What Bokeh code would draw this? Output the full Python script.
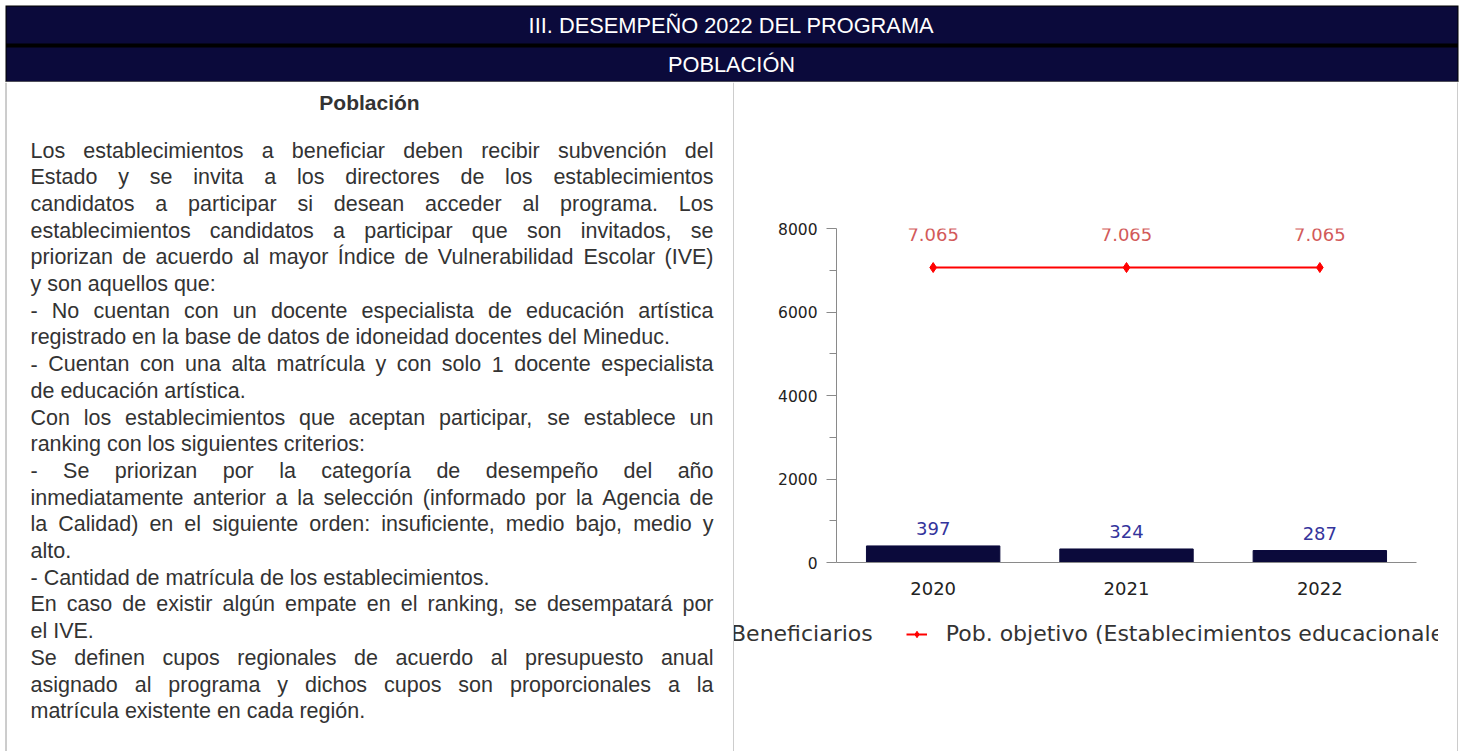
from bokeh.plotting import figure
from bokeh.models import Range1d, FactorRange, FixedTicker, Legend, LegendItem
from bokeh.layouts import column, row
from bokeh.embed import file_html
from bokeh.resources import INLINE
from bokeh.core.properties import value

# ---------------- data ----------------
years = ["2020", "2021", "2022"]
beneficiarios = [397, 324, 287]
pob_objetivo = [7065, 7065, 7065]
y_ticks = [0, 2000, 4000, 6000, 8000]
y_minor_ticks = [1000, 3000, 5000, 7000]
series_names = ["Beneficiarios", "Pob. objetivo (Establecimientos educacionales)"]
header_titles = ["III. DESEMPEÑO 2022 DEL PROGRAMA", "POBLACIÓN"]
panel_title = "Población"
body_lines = [
    ("Los establecimientos a beneficiar deben recibir subvención del", True),
    ("Estado y se invita a los directores de los establecimientos", True),
    ("candidatos a participar si desean acceder al programa. Los", True),
    ("establecimientos candidatos a participar que son invitados, se", True),
    ("priorizan de acuerdo al mayor Índice de Vulnerabilidad Escolar (IVE)", True),
    ("y son aquellos que:", False),
    ("- No cuentan con un docente especialista de educación artística", True),
    ("registrado en la base de datos de idoneidad docentes del Mineduc.", False),
    ("- Cuentan con una alta matrícula y con solo 1 docente especialista", True),
    ("de educación artística.", False),
    ("Con los establecimientos que aceptan participar, se establece un", True),
    ("ranking con los siguientes criterios:", False),
    ("- Se priorizan por la categoría de desempeño del año", True),
    ("inmediatamente anterior a la selección (informado por la Agencia de", True),
    ("la Calidad) en el siguiente orden: insuficiente, medio bajo, medio y", True),
    ("alto.", False),
    ("- Cantidad de matrícula de los establecimientos.", False),
    ("En caso de existir algún empate en el ranking, se desempatará por", True),
    ("el IVE.", False),
    ("Se definen cupos regionales de acuerdo al presupuesto anual", True),
    ("asignado al programa y dichos cupos son proporcionales a la", True),
    ("matrícula existente en cada región.", False),
]

NAVY = "#0b0a3b"
TEXT = "#333333"
BORDER = "#9a9a9a"
RED = "#ff0000"

# Arial / Liberation Sans advance widths (1/1000 em)
AW = {' ': 278, '!': 278, '(': 333, ')': 333, ',': 278, '-': 333, '.': 278, ':': 278,
      'A': 667, 'B': 667, 'C': 722, 'D': 722, 'E': 667, 'F': 611, 'G': 778, 'H': 722,
      'I': 278, 'J': 500, 'K': 667, 'L': 556, 'M': 833, 'N': 722, 'O': 778, 'P': 667,
      'Q': 778, 'R': 722, 'S': 667, 'T': 611, 'U': 722, 'V': 667, 'W': 944, 'X': 667,
      'Y': 667, 'Z': 611, 'a': 556, 'b': 556, 'c': 500, 'd': 556, 'e': 556, 'f': 278,
      'g': 556, 'h': 556, 'i': 222, 'j': 222, 'k': 500, 'l': 222, 'm': 833, 'n': 556,
      'o': 556, 'p': 556, 'q': 556, 'r': 333, 's': 500, 't': 278, 'u': 556, 'v': 500,
      'w': 722, 'x': 500, 'y': 500, 'z': 500, 'á': 556, 'é': 556, 'í': 278, 'ó': 556,
      'ú': 556, 'ñ': 556, 'Í': 278, 'Ó': 778, 'Ñ': 722, 'É': 667}
for d in "0123456789":
    AW[d] = 556


def text_width(s, size):
    return sum(AW.get(ch, 556) for ch in s) * size / 1000.0


def bare(p):
    p.axis.visible = False
    p.grid.visible = False
    return p


# ---------------- header ----------------
hdr = bare(figure(width=1460, height=82, x_range=Range1d(0, 1460), y_range=Range1d(82, 0),
                  toolbar_location=None, output_backend="svg", min_border=0,
                  outline_line_color=None))
hdr.quad(left=[5], right=[1458], top=[5], bottom=[82], fill_color="#000000", line_color=None)
hdr.quad(left=[6, 6], right=[1457, 1457], top=[6, 47], bottom=[43, 81],
         fill_color=NAVY, line_color=None)
hdr.segment(x0=[5], y0=[81.5], x1=[1458], y1=[81.5], line_color=BORDER, line_width=1)
hdr.text(x=[731, 731], y=[25, 64], text=header_titles, text_align="center",
         text_baseline="middle", text_color="white",
         text_font=value("Liberation Sans"), text_font_size="21.8px")

# ---------------- text panel ----------------
PH = 669
tp = bare(figure(width=734, height=PH, x_range=Range1d(0, 734), y_range=Range1d(751, 82),
                 toolbar_location=None, output_backend="svg", min_border=0,
                 outline_line_color=None))
tp.segment(x0=[5.5, 733.5], y0=[82, 82], x1=[5.5, 733.5], y1=[751, 751],
           line_color=BORDER, line_width=1)
tp.text(x=[369], y=[102], text=[panel_title], text_align="center", text_baseline="middle",
        text_color=TEXT, text_font=value("Liberation Sans"), text_font_size="21px",
        text_font_style="bold")

FS = 21.5
X0, X1 = 30, 713
Y0, LH = 150, 26.7
wx, wy, wt = [], [], []
for i, (line, just) in enumerate(body_lines):
    words = line.split(" ")
    widths = [text_width(w, FS) for w in words]
    if just and len(words) > 1:
        gap = (X1 - X0 - sum(widths)) / (len(words) - 1)
    else:
        gap = text_width(" ", FS)
    x = X0
    for w, wd in zip(words, widths):
        wx.append(x)
        wy.append(Y0 + i * LH)
        wt.append(w)
        x += wd + gap
tp.text(x=wx, y=wy, text=wt, text_align="left", text_baseline="middle",
        text_color=TEXT, text_font=value("Liberation Sans"), text_font_size=f"{FS}px")

# ---------------- chart ----------------
CW = 723
CH = 530           # chart canvas: page y 82 .. 612
ch = figure(width=CW, height=CH, x_range=FactorRange(*years, range_padding=0),
            y_range=Range1d(0, 8000), toolbar_location=None, output_backend="svg",
            min_border_left=102, min_border_right=CW - 102 - 580,
            min_border_top=146, min_border_bottom=CH - 146 - 334, outline_line_color=None)
ch.grid.visible = False

bars = ch.vbar(x=years, top=beneficiarios, width=0.69, fill_color=NAVY, line_color=NAVY)
ln = ch.line(x=years, y=pob_objetivo, line_color=RED, line_width=2)
pts = ch.scatter(x=years, y=pob_objetivo, marker="diamond", size=10,
                 fill_color=RED, line_color=RED)


def fmt(v):
    return f"{v:,}".replace(",", ".")


ch.text(x=years, y=beneficiarios, text=[fmt(v) for v in beneficiarios], y_offset=-11,
        text_align="center", text_baseline="bottom", text_color="#34349c",
        text_font=value("DejaVu Sans"), text_font_size="18px")
ch.text(x=years, y=pob_objetivo, text=[fmt(v) for v in pob_objetivo], y_offset=-27,
        text_align="center", text_baseline="bottom", text_color="#d25a5a",
        text_font=value("DejaVu Sans"), text_font_size="18px")

ya = ch.yaxis[0]
ya.ticker = FixedTicker(ticks=y_ticks, minor_ticks=y_minor_ticks)
ya.axis_line_color = "#8a8a8a"
ya.major_tick_line_color = "#8a8a8a"
ya.minor_tick_line_color = "#8a8a8a"
ya.major_tick_in = 0
ya.major_tick_out = 10
ya.minor_tick_in = 0
ya.minor_tick_out = 7
ya.major_label_text_font = "DejaVu Sans"
ya.major_label_text_font_size = "15.5px"
ya.major_label_text_color = "#222222"
ya.major_label_standoff = 9

xa = ch.xaxis[0]
xa.axis_line_color = "#8a8a8a"
xa.major_tick_line_color = None
xa.minor_tick_line_color = None
xa.major_label_text_font = "DejaVu Sans"
xa.major_label_text_font_size = "18px"
xa.major_label_text_color = "#222222"
xa.major_label_standoff = 13

# ---------------- legend strip (clipped like the original image) ----------------
LGH = PH - CH
LGW = 704
# the series are drawn far outside this strip's visible window; only the legend shows
lg = bare(figure(width=LGW, height=LGH, x_range=FactorRange(*years),
                 y_range=Range1d(50000, 60000), toolbar_location=None,
                 output_backend="svg", min_border=0, outline_line_color=None))
lg_bar = lg.vbar(x=years, top=beneficiarios, width=0.69, fill_color=NAVY, line_color=NAVY)
lg_line = lg.line(x=years, y=pob_objetivo, line_color=RED, line_width=2)
lg_pts = lg.scatter(x=years, y=pob_objetivo, marker="diamond", size=10,
                    fill_color=RED, line_color=RED)
legend = Legend(items=[LegendItem(label=series_names[0], renderers=[lg_bar]),
                       LegendItem(label=series_names[1], renderers=[lg_line, lg_pts])],
                orientation="horizontal", location=(-43, 105), padding=0, margin=0,
                spacing=33, glyph_width=21, glyph_height=16, label_standoff=19,
                label_text_font="DejaVu Sans", label_text_font_size="22px",
                label_text_color="#333333", background_fill_alpha=0,
                border_line_color=None)
lg.add_layout(legend, "center")

edge = bare(figure(width=1, height=PH, toolbar_location=None, output_backend="svg",
                   min_border=0, outline_line_color=None, background_fill_color=BORDER,
                   border_fill_color=BORDER))

right_col = column(row(ch), row(lg))
page = column(hdr, row(column(tp), right_col, edge))
open("out.html", "w").write(file_html(page, INLINE))
